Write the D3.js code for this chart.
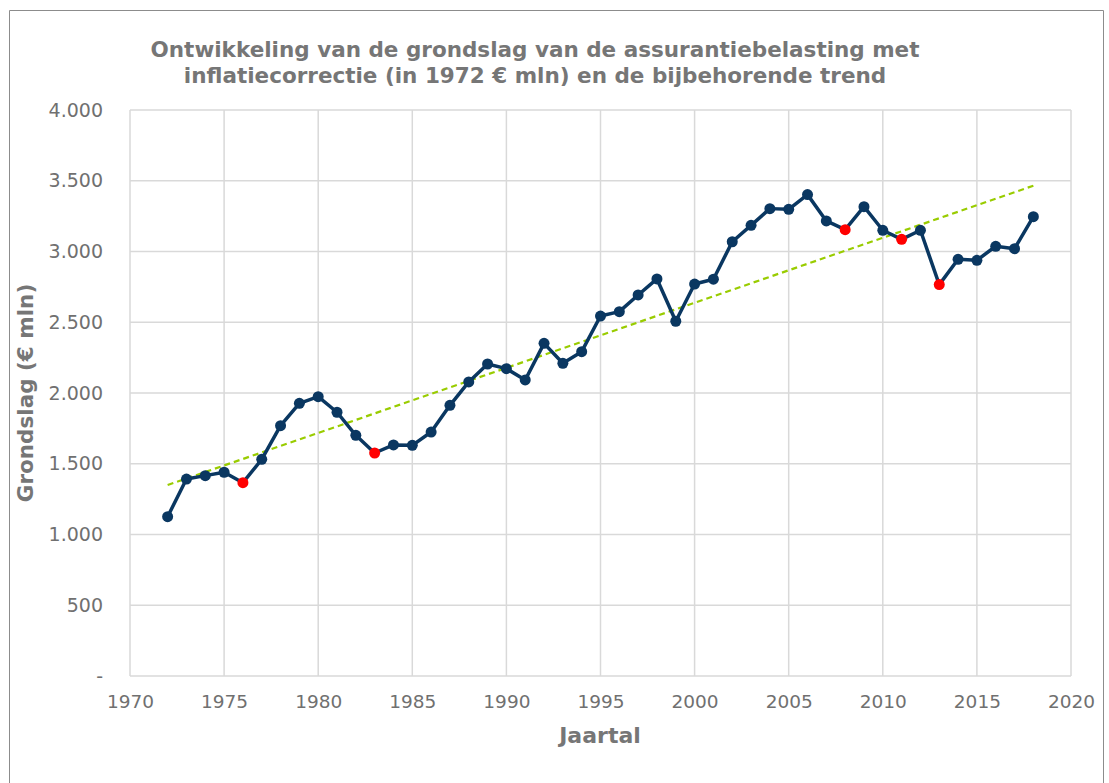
<!DOCTYPE html>
<html>
<head>
<meta charset="utf-8">
<script src="https://cdn.jsdelivr.net/npm/d3@7"></script>
<style>
  body { margin: 0; background: #fff; }
  svg text { font-family: "DejaVu Sans", Verdana, sans-serif; }
</style>
</head>
<body>
<div id="chart"></div>
<script>
// data
var years = d3.range(1972, 2019);
var values = [1126, 1392, 1416, 1440, 1366, 1531, 1769, 1927, 1974, 1864,
              1701, 1576, 1633, 1630, 1724, 1913, 2078, 2205, 2172, 2092,
              2351, 2210, 2292, 2544, 2575, 2693, 2806, 2507, 2770, 2804,
              3069, 3185, 3303, 3298, 3402, 3216, 3154, 3317, 3150, 3086,
              3150, 2766, 2945, 2938, 3037, 3020, 3246];
var redYears = [1976, 1983, 2008, 2011, 2013];
var trendYears = [1972, 2018];
var trendValues = [1350, 3465];
var yTicks = [0, 500, 1000, 1500, 2000, 2500, 3000, 3500, 4000];
var xTicks = d3.range(1970, 2021, 5);

var data = years.map((y, i) => ({year: y, value: values[i]}));
var trend = trendYears.map((y, i) => ({year: y, value: trendValues[i]}));

var width = 1109, height = 783;
var margin = {left: 130, right: 38, top: 110, bottom: 107};

var svg = d3.select("#chart").append("svg")
  .attr("width", width)
  .attr("height", height);

// outer frame
svg.append("path")
  .attr("d", "M9.5,790 V10.5 H1103.5 V790")
  .attr("fill", "none")
  .attr("stroke", "#8c8c8c")
  .attr("stroke-width", 1);

var x = d3.scaleLinear().domain([1970, 2020]).range([margin.left, width - margin.right]);
var y = d3.scaleLinear().domain([0, 4000]).range([height - margin.bottom, margin.top]);

var fmt = v => v === 0 ? "-" : d3.format(",")(v).replace(/,/g, ".");

// grid
svg.append("g").selectAll("line.h")
  .data(yTicks).enter().append("line")
  .attr("x1", x(1970)).attr("x2", x(2020))
  .attr("y1", d => y(d)).attr("y2", d => y(d))
  .attr("stroke", "#d9d9d9").attr("stroke-width", 1.5);

svg.append("g").selectAll("line.v")
  .data(xTicks).enter().append("line")
  .attr("y1", y(0)).attr("y2", y(4000))
  .attr("x1", d => x(d)).attr("x2", d => x(d))
  .attr("stroke", "#d9d9d9").attr("stroke-width", 1.5);

// axes (labels only)
var yAxis = svg.append("g")
  .attr("transform", "translate(" + x(1970) + ",0)")
  .call(d3.axisLeft(y).tickValues(yTicks).tickFormat(fmt).tickSize(0).tickPadding(27));
yAxis.select(".domain").remove();
yAxis.selectAll("text").attr("fill", "#707070").style("font-size", "19px");

var xAxis = svg.append("g")
  .attr("transform", "translate(0," + y(0) + ")")
  .call(d3.axisBottom(x).tickValues(xTicks).tickFormat(d3.format("d")).tickSize(0).tickPadding(19));
xAxis.select(".domain").remove();
xAxis.selectAll("text").attr("fill", "#707070").style("font-size", "18.5px");

// trend line
svg.append("path")
  .datum(trend)
  .attr("d", d3.line().x(d => x(d.year)).y(d => y(d.value)))
  .attr("fill", "none")
  .attr("stroke", "#99cc00")
  .attr("stroke-width", 2.2)
  .attr("stroke-dasharray", "6,4");

// main series
svg.append("path")
  .datum(data)
  .attr("d", d3.line().x(d => x(d.year)).y(d => y(d.value)))
  .attr("fill", "none")
  .attr("stroke", "#0a3761")
  .attr("stroke-width", 3.5)
  .attr("stroke-linejoin", "round");

svg.append("g").selectAll("circle")
  .data(data).enter().append("circle")
  .attr("cx", d => x(d.year))
  .attr("cy", d => y(d.value))
  .attr("r", 5.5)
  .attr("fill", d => redYears.includes(d.year) ? "#ff0000" : "#0a3761");

// titles
var title = svg.append("text")
  .attr("text-anchor", "middle")
  .attr("fill", "#767676")
  .style("font-size", "21.5px")
  .style("font-weight", "bold");
title.append("tspan").attr("x", 535).attr("y", 56.5).text("Ontwikkeling van de grondslag van de assurantiebelasting met");
title.append("tspan").attr("x", 535).attr("y", 83).text("inflatiecorrectie (in 1972 € mln) en de bijbehorende trend");

svg.append("text")
  .attr("x", 600).attr("y", 743)
  .attr("text-anchor", "middle")
  .attr("fill", "#767676")
  .style("font-size", "22px")
  .style("font-weight", "bold")
  .text("Jaartal");

svg.append("text")
  .attr("transform", "translate(33," + y(2000) + ") rotate(-90)")
  .attr("text-anchor", "middle")
  .attr("fill", "#767676")
  .style("font-size", "21.5px")
  .style("font-weight", "bold")
  .text("Grondslag (€ mln)");
</script>
</body>
</html>
